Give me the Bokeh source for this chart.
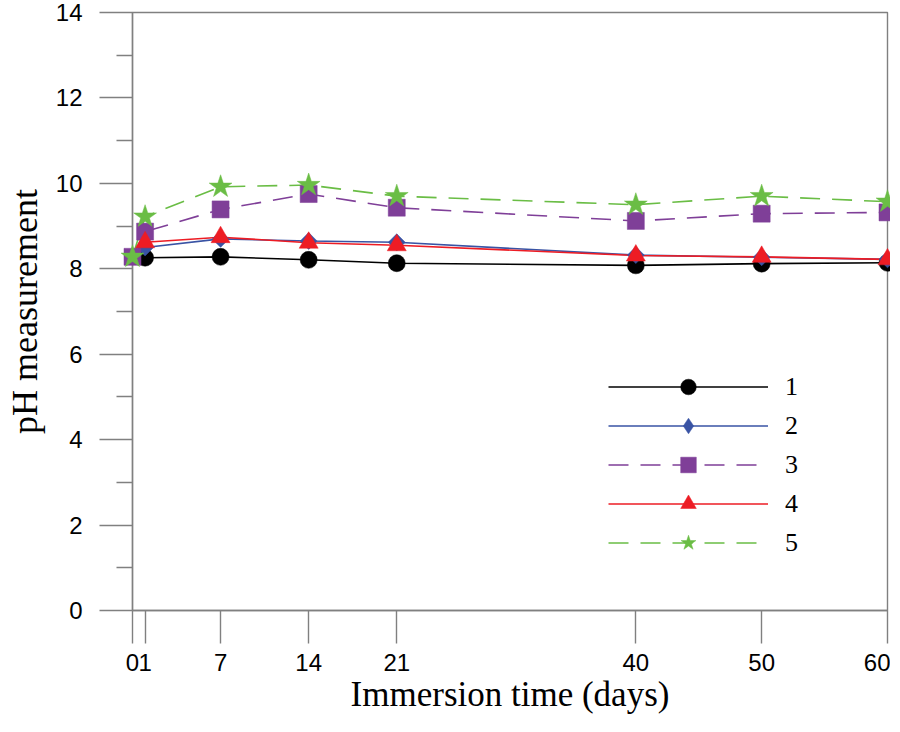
from bokeh.plotting import figure
from bokeh.models import Range1d, FixedTicker, Legend, LegendItem
from bokeh.embed import file_html
from bokeh.resources import INLINE

# ---- data ----
days_a = [1, 7, 14, 21, 40, 50, 60]
days_b = [0, 1, 7, 14, 21, 40, 50, 60]
s1 = [8.26, 8.28, 8.21, 8.13, 8.08, 8.12, 8.14]
s2 = [8.50, 8.70, 8.65, 8.62, 8.32, 8.27, 8.22]
s3 = [8.28, 8.87, 9.39, 9.75, 9.43, 9.12, 9.29, 9.32]
s4 = [8.62, 8.74, 8.61, 8.55, 8.31, 8.28, 8.22]
s5 = [8.28, 9.22, 9.92, 9.96, 9.70, 9.50, 9.70, 9.57]
x_ticks = [0, 1, 7, 14, 21, 40, 50, 60]
y_ticks = [0, 2, 4, 6, 8, 10, 12, 14]
y_minor = [1, 3, 5, 7, 9, 11, 13]
labels = ["1", "2", "3", "4", "5"]

W, H = 890, 716
FL, FR, FT, FB = 132, 887, 12, 610
p = figure(width=W, height=H, x_range=Range1d(0, 60), y_range=Range1d(0, 14),
           output_backend="svg", toolbar_location=None,
           min_border_left=FL, min_border_right=W - FR,
           min_border_top=FT, min_border_bottom=H - FB)
p.grid.visible = False
p.outline_line_color = "#808080"
p.outline_line_width = 1.4
p.background_fill_color = "white"
p.border_fill_color = "white"

gray = "#808080"
for ax in (p.xaxis[0], p.yaxis[0]):
    ax.axis_line_color = gray
    ax.axis_line_width = 1.4
    ax.major_tick_line_color = gray
    ax.major_tick_line_width = 1.4
    ax.minor_tick_line_color = gray
    ax.minor_tick_line_width = 1.4
    ax.major_tick_in = 0
    ax.major_tick_out = 33
    ax.minor_tick_in = 0
    ax.major_label_text_font = "Liberation Sans"
    ax.major_label_text_font_size = "24px"
    ax.major_label_text_color = "black"
    ax.axis_label_text_font = "Liberation Serif"
    ax.axis_label_text_font_size = "35px"
    ax.axis_label_text_font_style = "normal"
    ax.axis_label_text_color = "black"

p.xaxis[0].ticker = FixedTicker(ticks=x_ticks, minor_ticks=[])
p.xaxis[0].minor_tick_out = 0
p.xaxis[0].major_label_standoff = 10
p.xaxis[0].axis_label = "Immersion time (days)"
p.xaxis[0].axis_label_standoff = 1

p.yaxis[0].ticker = FixedTicker(ticks=y_ticks, minor_ticks=y_minor)
p.yaxis[0].minor_tick_out = 16
p.yaxis[0].major_label_standoff = 17
p.yaxis[0].axis_label = "pH measurement"
p.yaxis[0].axis_label_text_font_size = "36px"
p.yaxis[0].axis_label_standoff = 8

series = [
    (days_a, s1, "black", "solid", "circle", 17, 0.0),
    (days_a, s2, "#3953a4", "solid", "square", 12, 0.785398),
    (days_b, s3, "#7f3f98", "20 12", "square", 17, 0.0),
    (days_a, s4, "#ed1c24", "solid", "triangle", 19, 0.0),
    (days_b, s5, "#6abd45", "20 12", "star", 24, 0.0),
]

items = []
for (xs, ys, col, dash, mk, sz, ang), lab in zip(series, labels):
    lr = p.line(xs, ys, line_color=col, line_width=1.6, line_dash=dash)
    legend_marker = None
    if ang != 0.0:
        # legend keys are drawn unrotated: a diamond glyph (hidden beneath the
        # rotated squares) supplies the diamond-shaped key
        legend_marker = p.scatter(xs, ys, marker="diamond", size=16,
                                  fill_color=col, line_color=col, line_width=0.5)
    sr = p.scatter(xs, ys, marker=mk, size=sz, angle=ang, fill_color=col,
                   line_color=col, line_width=0.5)
    sr.level = "overlay"
    if legend_marker is None:
        legend_marker = sr
    items.append(LegendItem(label=lab, renderers=[lr, legend_marker]))

leg = Legend(items=items, location=(608 - FL, 48), orientation="vertical")
leg.glyph_width = 160
leg.glyph_height = 39
leg.label_height = 39
leg.spacing = 0
leg.padding = 0
leg.margin = 0
leg.label_standoff = 17
leg.border_line_color = None
leg.background_fill_alpha = 0
leg.label_text_font = "Liberation Serif"
leg.label_text_font_size = "26px"
leg.label_text_color = "black"
p.add_layout(leg, "center")

open("out.html", "w").write(file_html(p, INLINE))
